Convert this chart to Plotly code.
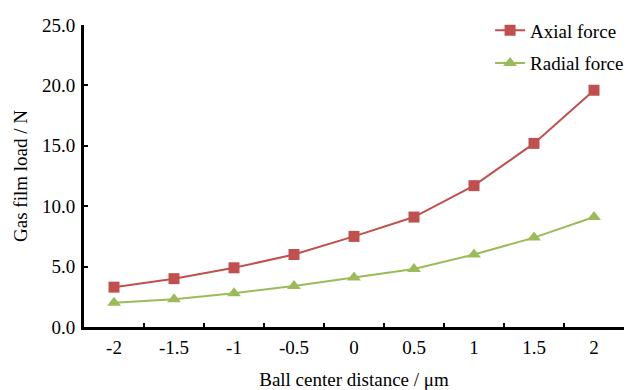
import plotly.graph_objects as go

categories = ["-2", "-1.5", "-1", "-0.5", "0", "0.5", "1", "1.5", "2"]
axial_force = [3.3, 4.0, 4.9, 6.0, 7.5, 9.1, 11.7, 15.2, 19.6]
radial_force = [2.0, 2.3, 2.8, 3.4, 4.1, 4.8, 6.0, 7.4, 9.1]
y_ticks = [0, 5, 10, 15, 20, 25]

font_family = "Liberation Serif"
FS = 19

fig = go.Figure()
fig.add_trace(go.Scatter(
    x=categories, y=axial_force, name="Axial force", mode="lines+markers",
    legendgroup="a",
    line=dict(color="#C0504D", width=2),
    marker=dict(symbol="square", size=11, color="#C0504D"),
))
fig.add_trace(go.Scatter(
    x=categories, y=radial_force, name="Radial force", mode="lines+markers",
    legendgroup="b",
    line=dict(color="#9BBB59", width=2),
    marker=dict(symbol="triangle-up", size=12, color="#9BBB59"),
))

# page body has an 8px margin, so the figure is sized to fill the rest
fig.update_layout(
    width=624, height=382,
    margin=dict(l=76, r=3, t=14, b=63),
    paper_bgcolor="white", plot_bgcolor="white",
    font=dict(family=font_family, size=FS, color="black"),
    showlegend=True,
    legend=dict(x=0.752, y=1.045, xanchor="left", yanchor="top",
                bgcolor="rgba(0,0,0,0)", font=dict(size=FS),
                tracegroupgap=5),
    xaxis=dict(
        type="category", range=[-0.5, 8.5], tickson="boundaries",
        ticks="inside", ticklen=4, tickwidth=1.5, tickcolor="black",
        showline=True, linecolor="black", linewidth=3,
        showgrid=False, zeroline=False, automargin=False,
        ticklabelstandoff=1,
        title=dict(text="Ball center distance / μm", standoff=27, font=dict(size=FS)),
        tickfont=dict(size=FS),
    ),
    yaxis=dict(
        range=[0, 25], tickvals=y_ticks, tickformat=".1f",
        ticks="inside", ticklen=4, tickwidth=1.5, tickcolor="black",
        showline=True, linecolor="black", linewidth=3,
        showgrid=False, zeroline=False, automargin=False,
        ticklabelstandoff=2,
        title=dict(text="Gas film load / N", standoff=10, font=dict(size=FS)),
        tickfont=dict(size=FS),
    ),
)

fig.write_html("out.html")
